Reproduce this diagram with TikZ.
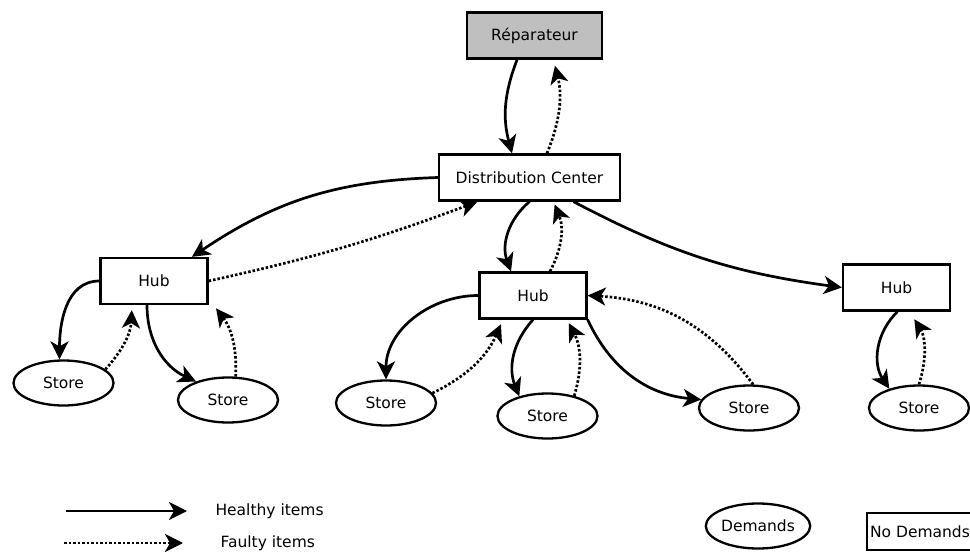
\documentclass[tikz,border=0pt]{standalone}
\usepackage{fontspec}
\setmainfont{DejaVu Sans}
\usetikzlibrary{arrows.meta, shapes.geometric}

\begin{document}
\begin{tikzpicture}[x = 1pt, y = 1pt,
	font = \fontsize{15.5}{18}\selectfont,
	box/.style = {draw, line width = 2.3pt, minimum width = 107pt, minimum height = 46pt, inner sep = 0pt},
	store/.style = {draw, ellipse, line width = 2.3pt, minimum width = 100pt, minimum height = 45pt, inner sep = 0pt},
	healthy/.style = {line width = 2.7pt, -{Stealth[length = 18pt, width = 18pt, inset = 5pt]}},
	faulty/.style = {healthy, dash pattern = on 2.5pt off 2pt}]
	\useasboundingbox (0, 0) rectangle (970, -554);
	\node[box, fill = black!25, line width = 2.8pt, minimum width = 135pt] (rep) at (534.5, -35.5) {Réparateur};
	\node[box, minimum width = 181pt] (dc) at (529.5, -177.5) {Distribution Center};
	\node[box] (hubL) at (154, -281) {Hub};
	\node[box] (hubM) at (533, -295.5) {Hub};
	\node[box] (hubR) at (896.5, -287.5) {Hub};
	\node[store] (s1) at (63.5, -383) {Store};
	\node[store] (s2) at (228, -400) {Store};
	\node[store] (s3) at (386, -403) {Store};
	\node[store] (s4) at (547.5, -416) {Store};
	\node[store] (s5) at (749, -408) {Store};
	\node[store] (s6) at (919, -408) {Store};
	\draw[healthy] ([xshift = -17.5pt]rep.south) to[bend right = 18] ([xshift = -17.5pt]dc.north);
	\draw[faulty, shorten > = 6pt] ([xshift = 17.5pt]dc.north) to[bend right = 18] ([xshift = 19pt]rep.south);
	\draw[healthy] (dc.west) to[bend right = 16] ([xshift = 38pt]hubL.north);
	\draw[faulty] (hubL.east) to[bend right = 4] ([xshift = -52pt]dc.south);
	\draw[healthy] (dc.south) to[bend right = 35] ([xshift = -22pt]hubM.north);
	\draw[faulty, shorten > = 3pt] ([xshift = 17pt]hubM.north) to[bend right = 25] ([xshift = 24pt]dc.south);
	\draw[healthy] ([xshift = 44pt]dc.south) to[bend right = 10] (hubR.west);
	\draw[healthy] (hubL.west) to[out = 180, in = 90] ([xshift = -4pt]s1.north);
	\draw[faulty, shorten > = 5pt] (s1.18) to[bend right = 20] ([xshift = -22pt]hubL.south);
	\draw[healthy] ([xshift = -7pt]hubL.south) to[out = 270, in = 155] (s2.150);
	\draw[faulty, shorten > = 4pt] (s2.72) to[bend right = 20] ([xshift = 5pt]hubL.south east);
	\draw[healthy] (hubM.west) to[out = 180, in = 90] (s3.north);
	\draw[faulty, shorten > = 5pt] (s3.12) to[bend right = 20] ([xshift = -30pt]hubM.south);
	\draw[healthy] (hubM.south) to[bend right = 32] (s4.145);
	\draw[faulty, shorten > = 4pt] (s4.37) to[bend right = 22] ([xshift = 34pt]hubM.south);
	\draw[healthy] (hubM.south east) to[bend right = 30] (s5.170);
	\draw[faulty] (s5.80) to[bend right = 25] (hubM.east);
	\draw[healthy] ([xshift = 1pt]hubR.south) to[bend right = 40] (s6.147);
	\draw[faulty, shorten > = 9pt] (s6.north) to[bend right = 25] ([xshift = 13pt]hubR.south);
	\coordinate (h0) at (66, -511);
	\coordinate (h1) at (187, -511);
	\draw[healthy] (h0) -- (h1);
	\node[anchor = west] (htxt) at (212, -511) {Healthy items};
	\coordinate (f0) at (64, -543);
	\coordinate (f1) at (183, -543);
	\draw[faulty] (f0) -- (f1);
	\node[anchor = west] (ftxt) at (217, -543) {Faulty items};
	\node[store] (dem) at (758, -526) {Demands};
	\node[box, minimum width = 106pt, minimum height = 37pt] (nodem) at (920, -531.5) {No Demands};
\end{tikzpicture}
\end{document}
